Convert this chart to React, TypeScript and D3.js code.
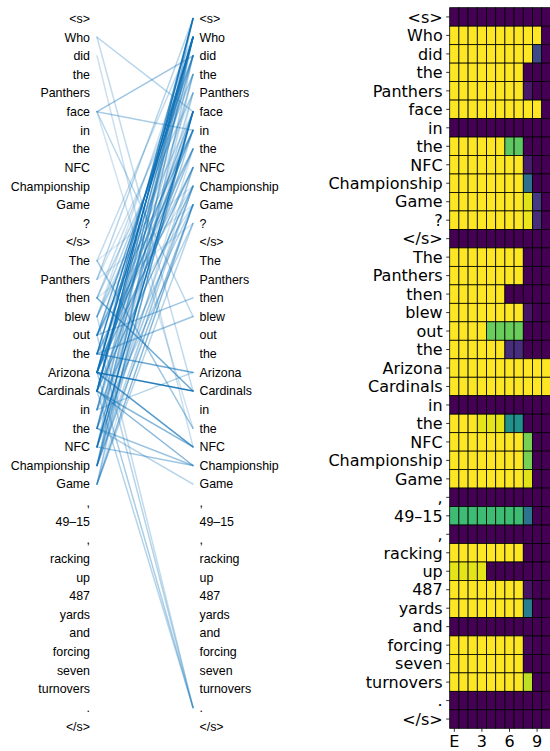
import React from "react";
import * as d3 from "d3";

const tokens = ["<s>", "Who", "did", "the", "Panthers", "face", "in", "the", "NFC", "Championship", "Game", "?", "</s>", "The", "Panthers", "then", "blew", "out", "the", "Arizona", "Cardinals", "in", "the", "NFC", "Championship", "Game", ",", "49–15", ",", "racking", "up", "487", "yards", "and", "forcing", "seven", "turnovers", ".", "</s>"];

const layerLabels = ["E", "1", "2", "3", "4", "5", "6", "7", "8", "9", "10"];
const layerTicks = ["E", "3", "6", "9"];

const Z = [0, 0, 0, 0, 0, 0, 0, 0, 0, 0, 0];
const heatRows: number[][] = [
  Z,
  [1, 1, 1, 1, 1, 1, 1, 1, 1, 1, 0],
  [1, 1, 1, 1, 1, 1, 1, 1, 1, 0.22, 0],
  [1, 1, 1, 1, 1, 1, 1, 1, 0, 0, 0],
  [1, 1, 1, 1, 1, 1, 1, 1, 0.06, 0, 0],
  [1, 1, 1, 1, 1, 1, 1, 1, 1, 1, 0],
  Z,
  [1, 1, 1, 1, 1, 1, 0.75, 0.75, 0, 0, 0],
  [1, 1, 1, 1, 1, 1, 1, 1, 0.07, 0, 0],
  [1, 1, 1, 1, 1, 1, 1, 1, 0.37, 0, 0],
  [1, 1, 1, 1, 1, 1, 1, 1, 0.95, 0.17, 0],
  [1, 1, 1, 1, 1, 1, 1, 1, 0.97, 0.13, 0],
  Z,
  [1, 1, 1, 1, 1, 1, 1, 1, 0, 0, 0],
  [1, 1, 1, 1, 1, 1, 1, 1, 0, 0, 0],
  [1, 1, 1, 1, 1, 1, 0, 0, 0, 0, 0],
  [1, 1, 1, 1, 1, 1, 1, 1, 0.05, 0, 0],
  [1, 1, 1, 1, 0.77, 0.77, 0.77, 0.77, 0, 0, 0],
  [1, 1, 1, 1, 1, 1, 0.13, 0.13, 0, 0, 0],
  [1, 1, 1, 1, 1, 1, 1, 1, 1, 1, 1],
  [1, 1, 1, 1, 1, 1, 1, 1, 1, 1, 1],
  Z,
  [1, 1, 1, 0.96, 0.96, 0.96, 0.5, 0.5, 0, 0, 0],
  [1, 1, 1, 1, 1, 1, 1, 1, 0.79, 0, 0],
  [1, 1, 1, 1, 1, 1, 1, 1, 0.79, 0, 0],
  [1, 1, 1, 1, 1, 1, 1, 1, 0.95, 0, 0],
  Z,
  [0.69, 0.69, 0.69, 0.69, 0.69, 0.69, 0.69, 0.69, 0.38, 0, 0],
  Z,
  [1, 1, 1, 1, 1, 1, 1, 1, 0, 0, 0],
  [0.96, 0.96, 0.96, 0.96, 0, 0, 0, 0, 0, 0, 0],
  [1, 1, 1, 1, 1, 1, 1, 1, 0.05, 0, 0],
  [1, 1, 1, 1, 1, 1, 1, 1, 0.42, 0, 0],
  Z,
  [1, 1, 1, 1, 1, 1, 1, 1, 0.02, 0, 0],
  [1, 1, 1, 1, 1, 1, 1, 1, 0, 0, 0],
  [1, 1, 1, 1, 1, 1, 1, 1, 0.9, 0, 0],
  Z,
  Z,
];

// attention links: source (left token index), target (right token index), weight
const linkSource = [1, 1, 2, 5, 5, 5, 5,
  19, 19, 20, 20, 18, 17, 23, 24, 19, 20, 22, 21, 23, 24, 25, 16, 15, 17, 18, 19, 20, 21, 22, 23, 24, 25, 14, 13, 17, 18, 19, 20, 22, 23, 24, 25, 21, 22, 16, 15,
  18, 19, 19, 20, 20, 22, 23, 21, 15, 13, 17, 18, 22,
  19, 20, 17, 16,
  14, 16, 17, 18, 21, 22, 23, 24, 25, 15, 16, 17, 21, 24, 25, 13, 14];
const linkTarget = [5, 20, 23, 2, 6, 16, 22,
  1, 0, 0, 1, 1, 2, 5, 5, 5, 2, 1, 1, 0, 1, 2, 3, 4, 6, 7, 8, 9, 10, 11, 9, 10, 11, 0, 1, 7, 8, 6, 7, 6, 8, 9, 10, 3, 4, 6, 2,
  19, 20, 23, 23, 24, 24, 24, 19, 20, 22, 15, 16, 25,
  37, 37, 37, 37,
  3, 5, 9, 10, 2, 5, 3, 7, 8, 11, 1, 4, 5, 3, 4, 9, 10];
const linkWeight = [0.3, 0.25, 0.22, 0.4, 0.35, 0.28, 0.2,
  0.95, 0.7, 0.9, 0.7, 0.85, 0.6, 0.9, 0.6, 0.5, 0.5, 0.5, 0.4, 0.4, 0.5, 0.35, 0.3, 0.3, 0.5, 0.4, 0.5, 0.5, 0.3, 0.3, 0.4, 0.45, 0.3, 0.3, 0.25, 0.3, 0.3, 0.6, 0.4, 0.35, 0.3, 0.3, 0.5, 0.3, 0.3, 0.25, 0.25,
  0.6, 0.9, 0.7, 0.5, 0.5, 0.4, 0.4, 0.3, 0.6, 0.4, 0.4, 0.4, 0.3,
  0.35, 0.3, 0.3, 0.25,
  0.2, 0.25, 0.2, 0.2, 0.2, 0.25, 0.2, 0.2, 0.2, 0.15, 0.2, 0.15, 0.2, 0.15, 0.15, 0.15, 0.15];

const W = 550;
const H = 751;

export default function App() {
  const n = tokens.length;
  const textY = d3.scaleLinear().domain([0, n - 1]).range([18.6, 726.2]);
  const leftTextX = 90;
  const rightTextX = 199.5;
  const lineX1 = 97;
  const lineX2 = 193;

  const hx = d3.scaleBand<string>().domain(layerLabels).range([449.7, 449.7 + 9.2 * 11]).padding(0);
  const hy = d3.scaleBand<number>().domain(d3.range(n)).range([7.7, 728.3]).padding(0);
  const color = d3.interpolateViridis;

  const links = linkSource.map((s, i) => ({ s, t: linkTarget[i], w: linkWeight[i] }));
  links.sort((a, b) => a.w - b.w);

  const textFont = "'Liberation Sans', Arial, Helvetica, sans-serif";
  const heatFont = "'DejaVu Sans', sans-serif";

  return (
    <svg width={W} height={H} style={{ position: "absolute", left: 0, top: 0, background: "#fff" }}>
      <rect x={0} y={0} width={W} height={H} fill="#fff" />
      <g>
        {links.map((l, i) => (
          <line key={i} x1={lineX1} y1={textY(l.s)} x2={lineX2} y2={textY(l.t)}
            stroke="#0b6fb6" strokeWidth={1.5} strokeOpacity={l.w} strokeLinecap="round" />
        ))}
      </g>
      <g fontFamily={textFont} fontSize={12.4} fill="#000">
        {tokens.map((t, i) => (
          <text key={"l" + i} x={leftTextX} y={textY(i)} dy="0.35em" textAnchor="end">{t}</text>
        ))}
        {tokens.map((t, i) => (
          <text key={"r" + i} x={rightTextX} y={textY(i)} dy="0.35em" textAnchor="start">{t}</text>
        ))}
      </g>
      <g>
        {heatRows.map((row, r) =>
          row.map((v, c) => (
            <rect key={r + "-" + c} x={hx(layerLabels[c])} y={hy(r)} width={hx.bandwidth()} height={hy.bandwidth()}
              fill={color(v)} stroke="#000" strokeWidth={0.8} />
          ))
        )}
      </g>
      <g fontFamily={heatFont} fontSize={16} fill="#000">
        {tokens.map((t, i) => (
          <g key={"h" + i}>
            <line x1={446.2} x2={449.7} y1={(hy(i) as number) + hy.bandwidth() / 2} y2={(hy(i) as number) + hy.bandwidth() / 2} stroke="#000" strokeWidth={0.8} />
            <text x={442.7} y={(hy(i) as number) + hy.bandwidth() / 2} dy="0.36em" textAnchor="end">{t}</text>
          </g>
        ))}
        {layerTicks.map((t) => {
          const x = (hx(t) as number) + hx.bandwidth() / 2;
          return (
            <g key={"x" + t}>
              <line x1={x} x2={x} y1={728.3} y2={731.8} stroke="#000" strokeWidth={0.8} />
              <text x={x} y={735.3} dy="0.76em" textAnchor="middle">{t}</text>
            </g>
          );
        })}
      </g>
    </svg>
  );
}
